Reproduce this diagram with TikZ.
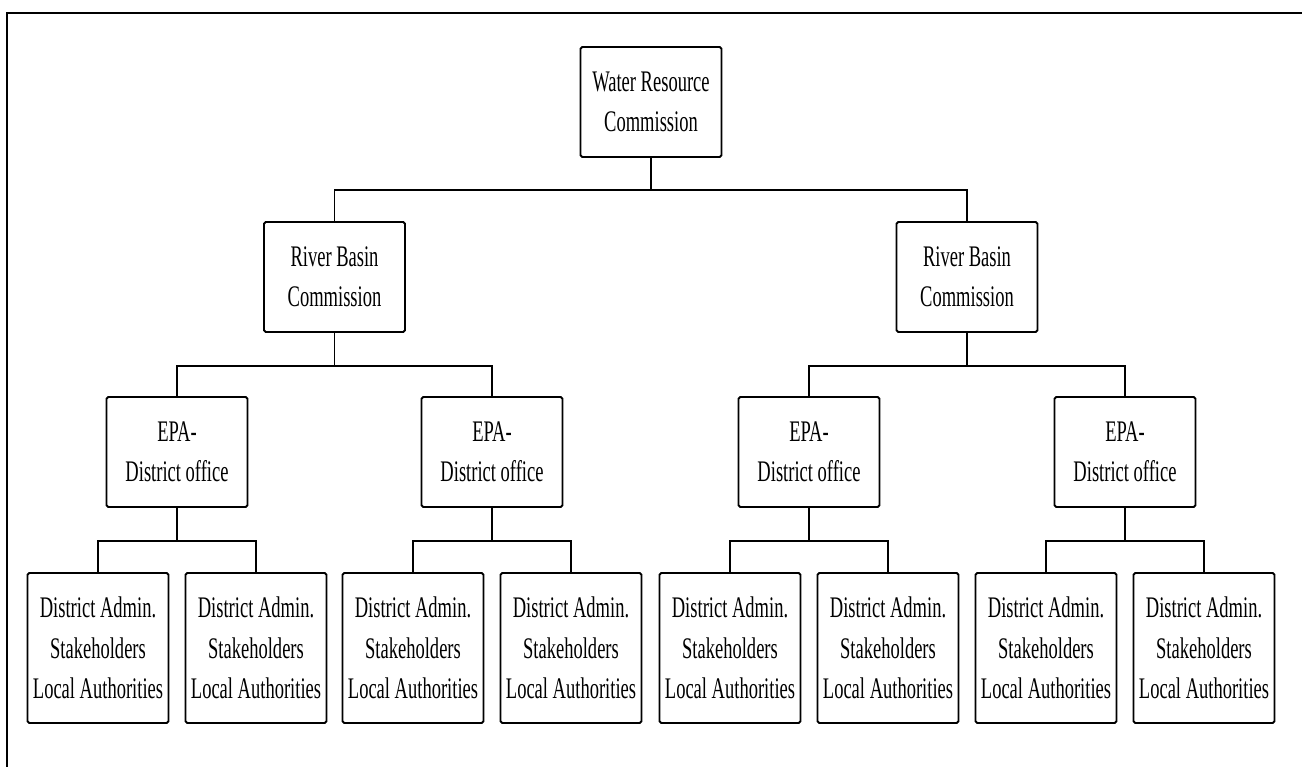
\documentclass[tikz,border=0pt]{standalone}
\usepackage{fontspec}
\setmainfont[FakeStretch=0.62]{Liberation Serif}
\usetikzlibrary{positioning,calc}
\tikzset{
  orgbox/.style={draw=black, rounded corners=1pt, line width=1.1pt, fill=white, align=center, inner sep=2pt, minimum width=2.82cm, minimum height=2.2cm, font=\fontsize{17}{23}\selectfont},
  orgleaf/.style={orgbox, minimum height=3cm},
  orgline/.style={line width=1.1pt},
  orgframe/.style={line width=1.5pt}
}

\begin{document}
\begin{tikzpicture}
  \useasboundingbox (0,0) rectangle (26.04,-15.34);
  \draw[orgframe] (0.14,-15.34) -- (0.14,-0.26) -- (26.04,-0.26);
  % top of the tree
  \node[orgbox] (wrc) at (13.02,-2.04) {Water Resource\\Commission};
  \node[orgbox] (rbcl) at (6.69,-5.54) {River Basin\\Commission};
  \node[orgbox] (rbcr) at (19.34,-5.54) {River Basin\\Commission};
  % district offices
  \node[orgbox] (epaa) at (3.54,-9.04) {EPA-\\District office};
  \node[orgbox] (epab) at (9.84,-9.04) {EPA-\\District office};
  \node[orgbox] (epac) at (16.18,-9.04) {EPA-\\District office};
  \node[orgbox] (epad) at (22.50,-9.04) {EPA-\\District office};
  % local level
  \node[orgleaf] (la1) at (1.96,-12.96) {District Admin.\\Stakeholders\\Local Authorities};
  \node[orgleaf] (la2) at (5.12,-12.96) {District Admin.\\Stakeholders\\Local Authorities};
  \node[orgleaf] (lb1) at (8.26,-12.96) {District Admin.\\Stakeholders\\Local Authorities};
  \node[orgleaf] (lb2) at (11.42,-12.96) {District Admin.\\Stakeholders\\Local Authorities};
  \node[orgleaf] (lc1) at (14.60,-12.96) {District Admin.\\Stakeholders\\Local Authorities};
  \node[orgleaf] (lc2) at (17.76,-12.96) {District Admin.\\Stakeholders\\Local Authorities};
  \node[orgleaf] (ld1) at (20.92,-12.96) {District Admin.\\Stakeholders\\Local Authorities};
  \node[orgleaf] (ld2) at (24.08,-12.96) {District Admin.\\Stakeholders\\Local Authorities};
  % connectors
  \draw[orgline] (wrc.south) -- ++(0,-0.65) coordinate (bwrc);
  \draw[orgline] (rbcl.north) |- (bwrc) -| (rbcr.north);
  \draw[orgline] (rbcl.south) -- ++(0,-0.66) coordinate (brbcl);
  \draw[orgline] (epaa.north) |- (brbcl) -| (epab.north);
  \draw[orgline] (rbcr.south) -- ++(0,-0.66) coordinate (brbcr);
  \draw[orgline] (epac.north) |- (brbcr) -| (epad.north);
  \draw[orgline] (epaa.south) -- ++(0,-0.66) coordinate (bepaa);
  \draw[orgline] (la1.north) |- (bepaa) -| (la2.north);
  \draw[orgline] (epab.south) -- ++(0,-0.66) coordinate (bepab);
  \draw[orgline] (lb1.north) |- (bepab) -| (lb2.north);
  \draw[orgline] (epac.south) -- ++(0,-0.66) coordinate (bepac);
  \draw[orgline] (lc1.north) |- (bepac) -| (lc2.north);
  \draw[orgline] (epad.south) -- ++(0,-0.66) coordinate (bepad);
  \draw[orgline] (ld1.north) |- (bepad) -| (ld2.north);
\end{tikzpicture}
\end{document}
